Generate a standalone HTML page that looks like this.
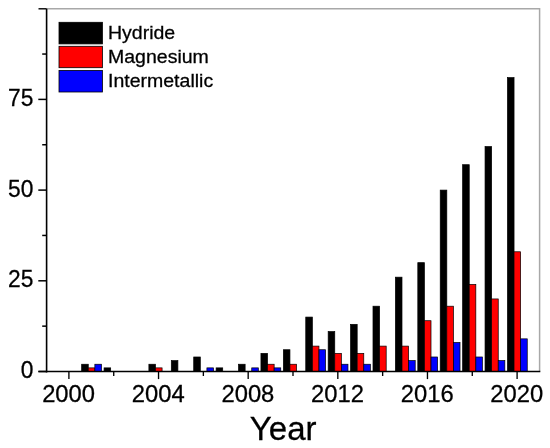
<!DOCTYPE html>
<html><head><meta charset="utf-8"><style>
html,body{margin:0;padding:0;background:#fff;width:550px;height:448px;overflow:hidden}
svg{display:block;filter:blur(0.3px)}
text{font-family:"Liberation Sans",sans-serif;fill:#000;stroke:#000;stroke-width:0.28px}
</style></head><body>
<svg width="550" height="448" viewBox="0 0 550 448">
<rect x="0" y="0" width="550" height="448" fill="#fff"/>
<g>
<rect x="81.66" y="364.24" width="6.60" height="7.26" fill="#000" stroke="#000" stroke-width="0.7"/>
<rect x="104.07" y="367.87" width="6.60" height="3.63" fill="#000" stroke="#000" stroke-width="0.7"/>
<rect x="148.89" y="364.24" width="6.60" height="7.26" fill="#000" stroke="#000" stroke-width="0.7"/>
<rect x="171.30" y="360.62" width="6.60" height="10.88" fill="#000" stroke="#000" stroke-width="0.7"/>
<rect x="193.71" y="356.99" width="6.60" height="14.51" fill="#000" stroke="#000" stroke-width="0.7"/>
<rect x="216.12" y="367.87" width="6.60" height="3.63" fill="#000" stroke="#000" stroke-width="0.7"/>
<rect x="238.53" y="364.24" width="6.60" height="7.26" fill="#000" stroke="#000" stroke-width="0.7"/>
<rect x="260.94" y="353.36" width="6.60" height="18.14" fill="#000" stroke="#000" stroke-width="0.7"/>
<rect x="283.35" y="349.73" width="6.60" height="21.77" fill="#000" stroke="#000" stroke-width="0.7"/>
<rect x="305.76" y="317.08" width="6.60" height="54.42" fill="#000" stroke="#000" stroke-width="0.7"/>
<rect x="328.17" y="331.59" width="6.60" height="39.91" fill="#000" stroke="#000" stroke-width="0.7"/>
<rect x="350.58" y="324.34" width="6.60" height="47.16" fill="#000" stroke="#000" stroke-width="0.7"/>
<rect x="372.99" y="306.20" width="6.60" height="65.30" fill="#000" stroke="#000" stroke-width="0.7"/>
<rect x="395.40" y="277.17" width="6.60" height="94.33" fill="#000" stroke="#000" stroke-width="0.7"/>
<rect x="417.81" y="262.66" width="6.60" height="108.84" fill="#000" stroke="#000" stroke-width="0.7"/>
<rect x="440.22" y="190.10" width="6.60" height="181.40" fill="#000" stroke="#000" stroke-width="0.7"/>
<rect x="462.63" y="164.70" width="6.60" height="206.80" fill="#000" stroke="#000" stroke-width="0.7"/>
<rect x="485.04" y="146.56" width="6.60" height="224.94" fill="#000" stroke="#000" stroke-width="0.7"/>
<rect x="507.45" y="77.63" width="6.60" height="293.87" fill="#000" stroke="#000" stroke-width="0.7"/>
<rect x="88.26" y="367.87" width="6.60" height="3.63" fill="#ff0000" stroke="#000" stroke-width="0.7"/>
<rect x="155.49" y="367.87" width="6.60" height="3.63" fill="#ff0000" stroke="#000" stroke-width="0.7"/>
<rect x="267.54" y="364.24" width="6.60" height="7.26" fill="#ff0000" stroke="#000" stroke-width="0.7"/>
<rect x="289.95" y="364.24" width="6.60" height="7.26" fill="#ff0000" stroke="#000" stroke-width="0.7"/>
<rect x="312.36" y="346.10" width="6.60" height="25.40" fill="#ff0000" stroke="#000" stroke-width="0.7"/>
<rect x="334.77" y="353.36" width="6.60" height="18.14" fill="#ff0000" stroke="#000" stroke-width="0.7"/>
<rect x="357.18" y="353.36" width="6.60" height="18.14" fill="#ff0000" stroke="#000" stroke-width="0.7"/>
<rect x="379.59" y="346.10" width="6.60" height="25.40" fill="#ff0000" stroke="#000" stroke-width="0.7"/>
<rect x="402.00" y="346.10" width="6.60" height="25.40" fill="#ff0000" stroke="#000" stroke-width="0.7"/>
<rect x="424.41" y="320.71" width="6.60" height="50.79" fill="#ff0000" stroke="#000" stroke-width="0.7"/>
<rect x="446.82" y="306.20" width="6.60" height="65.30" fill="#ff0000" stroke="#000" stroke-width="0.7"/>
<rect x="469.23" y="284.43" width="6.60" height="87.07" fill="#ff0000" stroke="#000" stroke-width="0.7"/>
<rect x="491.64" y="298.94" width="6.60" height="72.56" fill="#ff0000" stroke="#000" stroke-width="0.7"/>
<rect x="514.05" y="251.78" width="6.60" height="119.72" fill="#ff0000" stroke="#000" stroke-width="0.7"/>
<rect x="94.86" y="364.24" width="6.60" height="7.26" fill="#0000ff" stroke="#000" stroke-width="0.7"/>
<rect x="206.91" y="367.87" width="6.60" height="3.63" fill="#0000ff" stroke="#000" stroke-width="0.7"/>
<rect x="251.73" y="367.87" width="6.60" height="3.63" fill="#0000ff" stroke="#000" stroke-width="0.7"/>
<rect x="274.14" y="367.87" width="6.60" height="3.63" fill="#0000ff" stroke="#000" stroke-width="0.7"/>
<rect x="318.96" y="349.73" width="6.60" height="21.77" fill="#0000ff" stroke="#000" stroke-width="0.7"/>
<rect x="341.37" y="364.24" width="6.60" height="7.26" fill="#0000ff" stroke="#000" stroke-width="0.7"/>
<rect x="363.78" y="364.24" width="6.60" height="7.26" fill="#0000ff" stroke="#000" stroke-width="0.7"/>
<rect x="408.60" y="360.62" width="6.60" height="10.88" fill="#0000ff" stroke="#000" stroke-width="0.7"/>
<rect x="431.01" y="356.99" width="6.60" height="14.51" fill="#0000ff" stroke="#000" stroke-width="0.7"/>
<rect x="453.42" y="342.48" width="6.60" height="29.02" fill="#0000ff" stroke="#000" stroke-width="0.7"/>
<rect x="475.83" y="356.99" width="6.60" height="14.51" fill="#0000ff" stroke="#000" stroke-width="0.7"/>
<rect x="498.24" y="360.62" width="6.60" height="10.88" fill="#0000ff" stroke="#000" stroke-width="0.7"/>
<rect x="520.65" y="338.85" width="6.60" height="32.65" fill="#0000ff" stroke="#000" stroke-width="0.7"/>
</g>
<polyline points="46.6,8.8 539.6,8.8 539.6,371.5" fill="none" stroke="#a8a8a8" stroke-width="1.5"/>
<line x1="38.5" y1="8.8" x2="46.6" y2="8.8" stroke="#000" stroke-width="1.4"/>
<line x1="46.6" y1="8.8" x2="46.6" y2="372.4" stroke="#000" stroke-width="1.6"/>
<line x1="38.5" y1="371.5" x2="540.3" y2="371.5" stroke="#000" stroke-width="1.6"/>
<line x1="68.90" y1="371.50" x2="68.90" y2="379.10" stroke="#000" stroke-width="1.35"/>
<line x1="113.72" y1="371.50" x2="113.72" y2="376.00" stroke="#000" stroke-width="1.35"/>
<line x1="158.54" y1="371.50" x2="158.54" y2="379.10" stroke="#000" stroke-width="1.35"/>
<line x1="203.36" y1="371.50" x2="203.36" y2="376.00" stroke="#000" stroke-width="1.35"/>
<line x1="248.18" y1="371.50" x2="248.18" y2="379.10" stroke="#000" stroke-width="1.35"/>
<line x1="293.00" y1="371.50" x2="293.00" y2="376.00" stroke="#000" stroke-width="1.35"/>
<line x1="337.82" y1="371.50" x2="337.82" y2="379.10" stroke="#000" stroke-width="1.35"/>
<line x1="382.64" y1="371.50" x2="382.64" y2="376.00" stroke="#000" stroke-width="1.35"/>
<line x1="427.46" y1="371.50" x2="427.46" y2="379.10" stroke="#000" stroke-width="1.35"/>
<line x1="472.28" y1="371.50" x2="472.28" y2="376.00" stroke="#000" stroke-width="1.35"/>
<line x1="517.10" y1="371.50" x2="517.10" y2="379.10" stroke="#000" stroke-width="1.35"/>
<line x1="38.30" y1="371.50" x2="46.6" y2="371.50" stroke="#000" stroke-width="1.5"/>
<line x1="42.20" y1="326.15" x2="46.6" y2="326.15" stroke="#000" stroke-width="1.5"/>
<line x1="38.30" y1="280.80" x2="46.6" y2="280.80" stroke="#000" stroke-width="1.5"/>
<line x1="42.20" y1="235.45" x2="46.6" y2="235.45" stroke="#000" stroke-width="1.5"/>
<line x1="38.30" y1="190.10" x2="46.6" y2="190.10" stroke="#000" stroke-width="1.5"/>
<line x1="42.20" y1="144.75" x2="46.6" y2="144.75" stroke="#000" stroke-width="1.5"/>
<line x1="38.30" y1="99.40" x2="46.6" y2="99.40" stroke="#000" stroke-width="1.5"/>
<line x1="42.20" y1="54.05" x2="46.6" y2="54.05" stroke="#000" stroke-width="1.5"/>
<g font-size="23.0">
<text transform="translate(68.60,401.6) scale(1.035,1)" text-anchor="middle">2000</text>
<text transform="translate(158.24,401.6) scale(1.035,1)" text-anchor="middle">2004</text>
<text transform="translate(247.88,401.6) scale(1.035,1)" text-anchor="middle">2008</text>
<text transform="translate(337.52,401.6) scale(1.035,1)" text-anchor="middle">2012</text>
<text transform="translate(427.16,401.6) scale(1.035,1)" text-anchor="middle">2016</text>
<text transform="translate(516.80,401.6) scale(1.035,1)" text-anchor="middle">2020</text>
<text transform="translate(33.4,378.10) scale(0.99,1)" text-anchor="end">0</text>
<text transform="translate(33.4,287.40) scale(0.99,1)" text-anchor="end">25</text>
<text transform="translate(33.4,196.70) scale(0.99,1)" text-anchor="end">50</text>
<text transform="translate(33.4,106.00) scale(0.99,1)" text-anchor="end">75</text>
</g>
<g>
<rect x="59" y="22.3" width="43.4" height="21.6" fill="#000" stroke="#000" stroke-width="0.8"/>
<rect x="59" y="46.3" width="43.4" height="21.4" fill="#ff0000" stroke="#000" stroke-width="0.8"/>
<rect x="59" y="70.4" width="43.4" height="21.6" fill="#0000ff" stroke="#000" stroke-width="0.8"/>
</g>
<g font-size="18.2">
<text transform="translate(108,38.6) scale(1.072,1)">Hydride</text>
<text transform="translate(108,63.2) scale(1.072,1)">Magnesium</text>
<text transform="translate(108,87.2) scale(1.072,1)">Intermetallic</text>
</g>
<text x="283.2" y="439.7" font-size="33" text-anchor="middle">Year</text>
</svg>
</body></html>
